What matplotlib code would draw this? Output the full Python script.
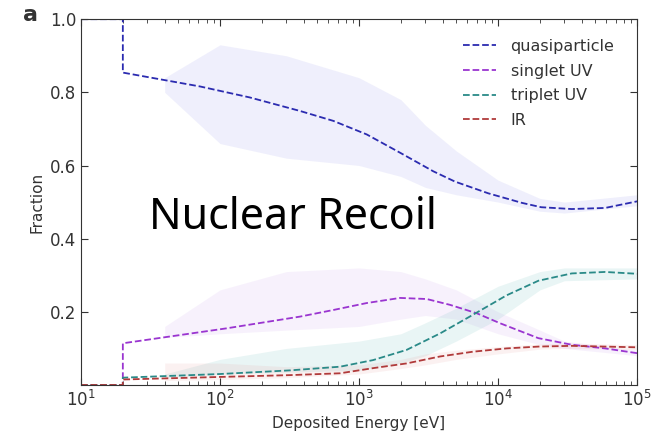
import matplotlib.pyplot as plt

# -----------------------------
# data (energy in eV, fraction)
# -----------------------------
energy_qp = [10, 20, 20, 72, 164, 377, 653, 1135, 1972, 3427, 4900, 8500, 14800, 20400, 33900, 58900, 100000]
frac_qp = [1.0, 1.0, 0.854, 0.816, 0.786, 0.749, 0.722, 0.685, 0.635, 0.584, 0.556, 0.524, 0.498, 0.486, 0.481, 0.484, 0.502]

energy_singlet = [10, 20, 20, 112, 377, 653, 1135, 1972, 3070, 4520, 7030, 10300, 19500, 33900, 58900, 100000]
frac_singlet = [0, 0, 0.114, 0.155, 0.187, 0.205, 0.224, 0.238, 0.235, 0.219, 0.196, 0.169, 0.128, 0.11, 0.10, 0.087]

energy_other = [10, 20, 20, 100, 320, 730, 1260, 2200, 3830, 6600, 11500, 19500, 33900, 58900, 100000]
frac_triplet = [0, 0, 0.02, 0.03, 0.04, 0.05, 0.068, 0.096, 0.141, 0.192, 0.245, 0.285, 0.305, 0.309, 0.304]
frac_ir = [0, 0, 0.015, 0.022, 0.027, 0.032, 0.046, 0.059, 0.078, 0.091, 0.10, 0.105, 0.107, 0.105, 0.103]

# rough envelopes of the scatter clouds
energy_band = [40, 100, 300, 1000, 2000, 3000, 5000, 10000, 20000, 30000, 100000]
qp_lo = [0.80, 0.66, 0.62, 0.60, 0.57, 0.54, 0.52, 0.50, 0.475, 0.47, 0.49]
qp_hi = [0.84, 0.93, 0.90, 0.84, 0.78, 0.71, 0.64, 0.56, 0.51, 0.50, 0.52]
singlet_lo = [0.13, 0.14, 0.15, 0.16, 0.18, 0.19, 0.18, 0.14, 0.11, 0.10, 0.08]
singlet_hi = [0.16, 0.26, 0.31, 0.32, 0.31, 0.29, 0.26, 0.20, 0.15, 0.12, 0.095]
triplet_lo = [0.02, 0.03, 0.035, 0.04, 0.06, 0.08, 0.12, 0.18, 0.26, 0.285, 0.29]
triplet_hi = [0.03, 0.07, 0.10, 0.12, 0.14, 0.17, 0.21, 0.27, 0.31, 0.32, 0.32]
ir_lo = [0.012, 0.015, 0.02, 0.03, 0.045, 0.055, 0.07, 0.085, 0.098, 0.10, 0.097]
ir_hi = [0.06, 0.06, 0.05, 0.055, 0.07, 0.085, 0.095, 0.105, 0.112, 0.115, 0.11]

series_names = ["quasiparticle", "singlet UV", "triplet UV", "IR"]
line_colors = ["#2b2bb0", "#9a35d0", "#2a8a88", "#b03a3a"]
cloud_colors = ["#6a6ae6", "#b77ee6", "#4fb3ad", "#e07a7a"]

# -----------------------------
# figure
# -----------------------------
fig = plt.figure(figsize=(6.66, 4.36), dpi=100)
ax = fig.add_axes([0.1216, 0.117, 0.835, 0.839])

ax.fill_between(energy_band, qp_lo, qp_hi, color=cloud_colors[0], alpha=0.10, lw=0)
ax.fill_between(energy_band, singlet_lo, singlet_hi, color=cloud_colors[1], alpha=0.10, lw=0)
ax.fill_between(energy_band, triplet_lo, triplet_hi, color=cloud_colors[2], alpha=0.12, lw=0)
ax.fill_between(energy_band, ir_lo, ir_hi, color=cloud_colors[3], alpha=0.10, lw=0)

ax.plot(energy_qp, frac_qp, "--", color=line_colors[0], lw=1.3, label=series_names[0])
ax.plot(energy_singlet, frac_singlet, "--", color=line_colors[1], lw=1.3, label=series_names[1])
ax.plot(energy_other, frac_triplet, "--", color=line_colors[2], lw=1.3, label=series_names[2])
ax.plot(energy_other, frac_ir, "--", color=line_colors[3], lw=1.3, label=series_names[3])

ax.set_xscale("log")
ax.set_xlim(10, 1e5)
ax.set_ylim(0, 1.0)
ax.set_yticks([0.2, 0.4, 0.6, 0.8, 1.0])

ax.tick_params(which="both", direction="in", top=True, right=True,
               labelsize=12, colors="#333333")
ax.tick_params(which="major", length=5)
ax.tick_params(which="minor", length=3)
for s in ax.spines.values():
    s.set_color("#333333")

ax.set_xlabel("Deposited Energy [eV]", fontsize=11, color="#333333")
ax.set_ylabel("Fraction", fontsize=11, color="#333333")

ax.legend(loc="upper right", bbox_to_anchor=(0.985, 0.985), frameon=False,
          fontsize=11.5, handlelength=2.1, handletextpad=0.9,
          labelspacing=0.6, labelcolor="#333333")

ax.text(31, 0.4266, "Nuclear Recoil", fontsize=31, family="Noto Sans",
        ha="left", va="baseline", color="black")
fig.text(0.035, 0.952, "a", fontsize=16, fontweight="bold", color="#333333")

plt.savefig("out.png", dpi=100)
